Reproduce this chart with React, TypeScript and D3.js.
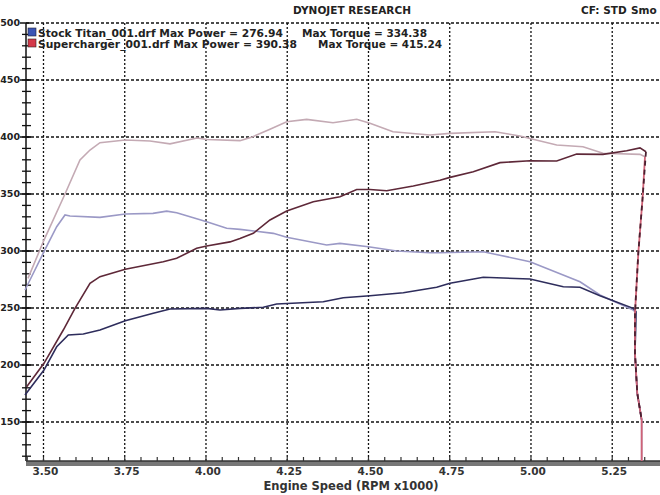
import React from "react";
import * as d3 from "d3";

const W = 660;
const H = 495;

// Supercharger power (dark maroon)
const scPowerRpm = [3.4483,3.5015,3.5609,3.5969,3.6431,3.6738,3.7517,3.8686,3.9098,3.9714,4.0022,4.0738,4.1046,4.1455,4.1969,4.2483,4.3302,4.4123,4.4637,4.5046,4.5560,4.6378,4.7200,4.7508,4.8225,4.9046,4.9969,5.0791,5.1406,5.2215,5.2945,5.3354,5.3538];
const scPowerVal = [181,201.5,230.7,249.7,271.7,277.5,284,290.6,293.6,302.4,304.4,308,311,315.5,327.2,335,343.2,347.6,354,354,352.9,357,362,364.6,369.6,377.5,379.2,378.9,385,384.8,388,390.4,387.1];
// Supercharger run end (rpm drop-off)
const scDropRpm = [5.3538,5.3437,5.3302,5.3200,5.3200,5.3271,5.3406];
const scDropVal = [387.1,347.6,298,245.3,210.2,175.2,151.8];

// Supercharger torque (light pink-gray)
const scTorqueRpm = [3.4523,3.5015,3.5662,3.6123,3.6431,3.6738,3.7517,3.8277,3.8892,3.9723,4.0031,4.1046,4.1446,4.1969,4.2483,4.3098,4.3908,4.4637,4.5046,4.5754,4.6892,4.7508,4.8892,4.9662,5.0062,5.0791,5.1600,5.2215,5.3354,5.3508];
const scTorqueVal = [276,309.6,350,379.8,388.6,395,397.4,396.5,394,399.1,397.8,396.8,400.3,406.8,413.4,415.5,412.5,415.5,412,404.6,401.8,403.2,404.6,400.9,398,393,391.5,385.7,384.8,382.7];
const scTorqueDropRpm = [5.3508,5.3437,5.3302,5.3200,5.3200,5.3271,5.3406,5.3406];
const scTorqueDropVal = [382.7,347.6,298,245.3,210.2,175.2,151.8,115.8];

// Stock torque (lavender)
const stTorqueRpm = [3.4431,3.5015,3.5406,3.5662,3.5815,3.6738,3.7517,3.8369,3.8791,3.9098,4.0022,4.0637,4.1046,4.2071,4.2483,4.3714,4.4123,4.4994,4.5868,4.6892,4.7200,4.8532,4.9969,5.1508,5.2123,5.3148,5.3231,5.3200,5.3271,5.3406,5.3406];
const stTorqueVal = [265.8,299.4,321.3,331.6,330.7,329.5,332.5,333,335,333.6,325.7,319.9,319,315.5,312,305.3,306.7,303.8,300,298.5,298.5,299.4,290.6,273,261.4,248.2,246,210.2,175.2,151.8,115.8];

// Stock power (dark navy)
const stPowerRpm = [3.4431,3.5015,3.5406,3.5763,3.6225,3.6738,3.7517,3.8378,3.8892,4.0022,4.0431,4.1046,4.1763,4.2175,4.3609,4.4225,4.5046,4.6071,4.7098,4.7508,4.8532,4.9969,5.0994,5.1508,5.2123,5.3148,5.3231,5.3200,5.3271,5.3406];
const stPowerVal = [173.7,195.6,216,226.3,227.2,230.7,238.9,245.4,249.1,249.7,248.2,249.7,250.6,253.5,255.5,259,260.8,263.4,268.2,271.7,277,275.4,268.7,268.2,260.8,249.7,247,210.2,175.2,151.8];

const yTicks = [150, 200, 250, 300, 350, 400, 450, 500];
const xTicks = [3.5, 3.75, 4.0, 4.25, 4.5, 4.75, 5.0, 5.25];
const xMinor = d3.range(3.45, 5.4, 0.05);
const yMinor = d3.range(120, 500, 10);

const legend1 = ["Stock Titan_001.drf Max Power = 276.94", "Max Torque = 334.38"];
const legend2 = ["Supercharger_001.drf Max Power = 390.38", "Max Torque = 415.24"];

const FONT = "'DejaVu Sans', Verdana, sans-serif";

export default function App() {
  const x = d3.scaleLinear().domain([3.4431, 5.397]).range([25, 660]);
  const y = d3.scaleLinear().domain([115.8, 500]).range([461, 23]);
  const line = d3
    .line<[number, number]>()
    .x((d) => x(d[0]))
    .y((d) => y(d[1]));
  const zip = (a: number[], b: number[]) => a.map((v, i) => [v, b[i]] as [number, number]);

  const axisX = 26;
  const top = y(500);
  const bottom = y(115.8);

  return (
    <svg
      width={W}
      height={H}
      style={{ position: "absolute", left: 0, top: 0, background: "#fff" }}
      fontFamily={FONT}
    >
      <rect width={W} height={H} fill="#fff" />
      {/* title */}
      <text x={352} y={14} textAnchor="middle" fontWeight="bold" fontSize={10.5} fill="#222">
        DYNOJET RESEARCH
      </text>
      <text x={581} y={14} fontWeight="bold" fontSize={10.5} fill="#222">
        CF: STD
      </text>
      <text x={631} y={14} fontWeight="bold" fontSize={10.5} fill="#222">
        Smo
      </text>

      {/* horizontal grid */}
      {yTicks.map((t) => (
        <line key={"hg" + t} x1={axisX} x2={W} y1={y(t)} y2={y(t)} stroke="#111" strokeWidth={1.3} strokeDasharray="3,2" />
      ))}
      {/* vertical grid */}
      {xTicks.map((t) => (
        <line key={"vg" + t} x1={x(t)} x2={x(t)} y1={top} y2={bottom} stroke="#111" strokeWidth={1.3} strokeDasharray="2,2" />
      ))}

      {/* left axis */}
      <line x1={axisX} x2={axisX} y1={top} y2={bottom} stroke="#111" strokeWidth={1.5} />
      {yMinor.map((t) => (
        <line key={"ym" + t} x1={axisX - 4} x2={axisX + 5} y1={y(t)} y2={y(t)} stroke="#111" strokeWidth={1.3} />
      ))}
      {yTicks.map((t) => (
        <line key={"yM" + t} x1={axisX - 6} x2={axisX + 5} y1={y(t)} y2={y(t)} stroke="#111" strokeWidth={1.5} />
      ))}
      {yTicks.map((t) => (
        <text key={"yl" + t} x={20} y={y(t)} dy="0.35em" textAnchor="end" fontWeight="bold" fontSize={9.5} fill="#222">
          {t}
        </text>
      ))}

      {/* bottom axis bar */}
      <rect x={axisX} y={bottom} width={W - axisX} height={5} fill="#777" />
      <line x1={axisX} x2={W} y1={bottom} y2={bottom} stroke="#333" strokeWidth={1.5} />
      {xMinor.map((t, i) => (
        <line key={"xm" + i} x1={x(t)} x2={x(t)} y1={bottom - 4} y2={bottom} stroke="#333" strokeWidth={1.2} />
      ))}
      {xTicks.map((t) => (
        <text key={"xl" + t} x={x(t) + 2} y={475} textAnchor="middle" fontWeight="bold" fontSize={10.5} fill="#333">
          {t.toFixed(2)}
        </text>
      ))}
      <text x={351} y={490} textAnchor="middle" fontWeight="bold" fontSize={11.5} fill="#333">
        Engine Speed (RPM x1000)
      </text>

      {/* curves */}
      <path d={line(zip(stTorqueRpm, stTorqueVal)) || ""} fill="none" stroke="#9b99c6" strokeWidth={1.6} />
      <path d={line(zip(stPowerRpm, stPowerVal)) || ""} fill="none" stroke="#2e2d5c" strokeWidth={1.6} />
      <path d={line(zip(scTorqueRpm, scTorqueVal)) || ""} fill="none" stroke="#c4aab4" strokeWidth={1.6} />
      <path d={line(zip(scTorqueDropRpm, scTorqueDropVal)) || ""} fill="none" stroke="#d06276" strokeWidth={1.8} />
      <path d={line(zip(scPowerRpm, scPowerVal)) || ""} fill="none" stroke="#5e2838" strokeWidth={1.6} />
      <path d={line(zip(scDropRpm, scDropVal)) || ""} fill="none" stroke="#4a2030" strokeWidth={1.8} strokeDasharray="5,4" />

      {/* legend */}
      <rect x={28} y={28} width={8} height={8} fill="#3a55b5" stroke="#223" strokeWidth={0.6} />
      <rect x={28} y={39} width={8} height={8} fill="#d43848" stroke="#322" strokeWidth={0.6} />
      <text x={38} y={37} fontWeight="bold" fontSize={10} fill="#222" textLength={245} lengthAdjust="spacingAndGlyphs">
        {legend1[0]}
      </text>
      <text x={302} y={37} fontWeight="bold" fontSize={10} fill="#222" textLength={125} lengthAdjust="spacingAndGlyphs">
        {legend1[1]}
      </text>
      <text x={38} y={48} fontWeight="bold" fontSize={10} fill="#222" textLength={259} lengthAdjust="spacingAndGlyphs">
        {legend2[0]}
      </text>
      <text x={318} y={48} fontWeight="bold" fontSize={10} fill="#222" textLength={124} lengthAdjust="spacingAndGlyphs">
        {legend2[1]}
      </text>
    </svg>
  );
}
